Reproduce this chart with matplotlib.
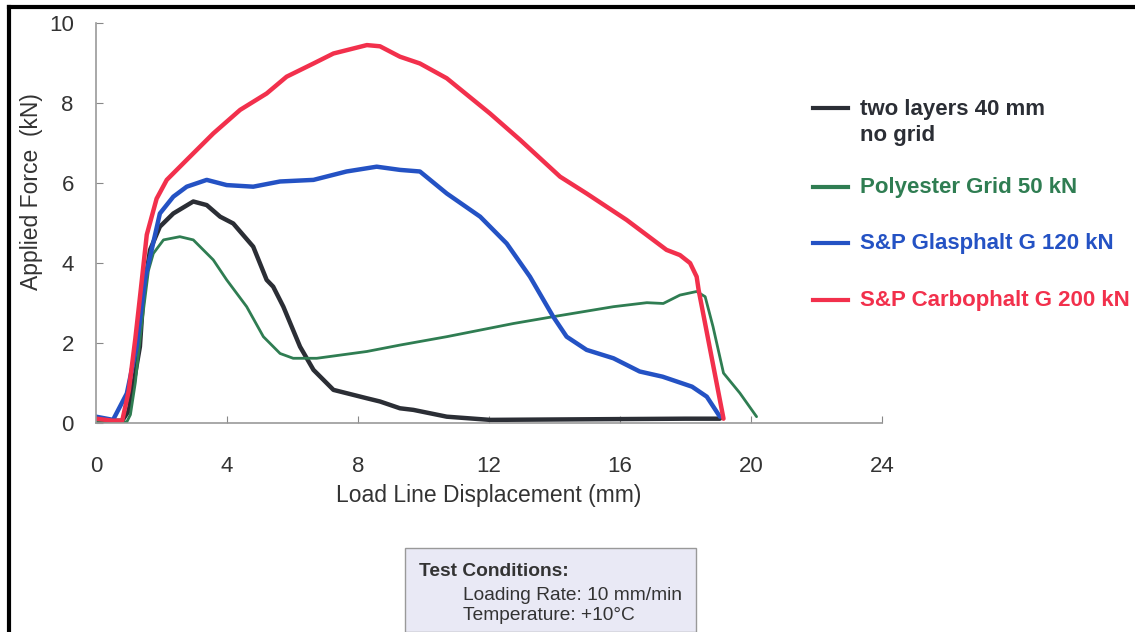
import matplotlib.pyplot as plt
import matplotlib.lines as mlines
import matplotlib.patches as mpatches

# values (x in mm, y in kN)
black_x = [0, 0.4, 0.8, 1.0, 1.15, 1.34, 1.45, 1.65, 1.95, 2.36, 2.97, 3.38, 3.79, 4.19, 4.8, 5.21, 5.41,
           5.72, 6.23, 6.64, 7.25, 8.27, 8.67, 9.28, 9.69, 10.71, 12.03, 14.0, 16.0, 18.0, 19.05]
black_y = [0.05, 0.05, 0.05, 0.3, 1.0, 1.9, 3.23, 4.32, 4.9, 5.23, 5.53, 5.44, 5.15, 4.98, 4.4, 3.57, 3.4,
           2.9, 1.9, 1.32, 0.82, 0.61, 0.53, 0.36, 0.32, 0.15, 0.07, 0.08, 0.09, 0.1, 0.1]

green_x = [0, 0.5, 0.94, 1.05, 1.2, 1.4, 1.6, 1.75, 2.06, 2.56, 2.97, 3.58, 3.99, 4.6, 5.11, 5.62, 6.02,
           6.74, 8.27, 9.28, 10.71, 12.75, 13.96, 15.8, 16.82, 17.32, 17.83, 18.34, 18.6, 18.84, 19.16,
           19.66, 20.17]
green_y = [0.05, 0.03, 0.02, 0.2, 1.0, 2.5, 3.8, 4.23, 4.57, 4.65, 4.57, 4.07, 3.57, 2.9, 2.15, 1.73, 1.61,
           1.61, 1.78, 1.94, 2.15, 2.48, 2.65, 2.9, 3.0, 2.98, 3.19, 3.28, 3.15, 2.4, 1.24,
           0.74, 0.15]

blue_x = [0, 0.52, 0.73, 0.94, 1.24, 1.5, 1.95, 2.36, 2.77, 3.38, 3.99, 4.8, 5.62, 6.64, 7.65, 8.57, 9.28,
          9.89, 10.71, 11.73, 12.54, 13.25, 13.96, 14.37, 14.98, 15.8, 16.6, 17.3, 18.2, 18.65, 19.05]
blue_y = [0.15, 0.07, 0.4, 0.73, 1.9, 3.6, 5.23, 5.65, 5.9, 6.07, 5.94, 5.9, 6.03, 6.07, 6.28, 6.4, 6.32,
          6.28, 5.73, 5.15, 4.48, 3.65, 2.65, 2.15, 1.82, 1.61, 1.28, 1.15, 0.9, 0.65, 0.15]

red_x = [0, 0.5, 0.8, 1.0, 1.2, 1.35, 1.55, 1.85, 2.16, 2.77, 3.58, 4.4, 5.21, 5.82, 6.64, 7.25, 8.27,
         8.67, 9.28, 9.89, 10.71, 12.03, 12.95, 14.17, 14.98, 16.2, 17.42, 17.83, 18.14, 18.34, 18.4,
         19.16]
red_y = [0.1, 0.05, 0.05, 0.8, 2.1, 3.2, 4.7, 5.6, 6.07, 6.57, 7.23, 7.82, 8.23, 8.65, 8.98, 9.23, 9.44,
         9.41, 9.15, 8.98, 8.61, 7.73, 7.07, 6.15, 5.73, 5.07, 4.32, 4.19, 3.99, 3.65, 3.32,
         0.1]

labels = ['two layers 40 mm\nno grid', 'Polyester Grid 50 kN',
          'S&P Glasphalt G 120 kN', 'S&P Carbophalt G 200 kN']
colors = ['#2b2e35', '#2f7d52', '#2452c4', '#f2304c']

x_ticks = [0, 4, 8, 12, 16, 20, 24]
y_ticks = [0, 2, 4, 6, 8, 10]

plt.rcParams['font.family'] = ['Liberation Sans', 'DejaVu Sans']

fig = plt.figure(figsize=(11.35, 6.32), dpi=100)
ax = fig.add_axes([0.0846, 0.3312, 0.6925, 0.6329])

series = [(black_x, black_y), (green_x, green_y), (blue_x, blue_y), (red_x, red_y)]
widths = [3.2, 2.0, 3.2, 3.2]
for (xs, ys), c, lw in zip(series, colors, widths):
    ax.plot(xs, ys, color=c, lw=lw, solid_capstyle='round', solid_joinstyle='round')

ax.set_xlim(0, 24)
ax.set_ylim(0, 10)
ax.set_xticks(x_ticks)
ax.set_yticks(y_ticks)
ax.tick_params(direction='in', length=5, color='#888888', labelsize=16, labelcolor='#333333')
ax.tick_params(axis='x', pad=24)
ax.tick_params(axis='y', pad=16)
for s in ['top', 'right']:
    ax.spines[s].set_visible(False)
for s in ['left', 'bottom']:
    ax.spines[s].set_color('#999999')
    ax.spines[s].set_linewidth(1.2)

ax.set_xlabel('Load Line Displacement (mm)', fontsize=16.5, color='#333333', labelpad=5)
ax.set_ylabel('Applied Force  (kN)', fontsize=16.5, color='#333333')
ax.yaxis.set_label_coords(-0.067, 0.579)

# legend drawn as lines + coloured text in figure coords
leg_y = [0.829, 0.704, 0.615, 0.525]
for yy, lab, c in zip(leg_y, labels, colors):
    fig.add_artist(mlines.Line2D([0.716, 0.747], [yy, yy], color=c, lw=3,
                                 transform=fig.transFigure))
    if '\n' in lab:
        fig.text(0.758, yy + 0.014, lab, color=c, fontsize=16, fontweight='bold',
                 va='top', linespacing=1.28)
    else:
        fig.text(0.758, yy, lab, color=c, fontsize=16, fontweight='bold', va='center')

# test conditions box
fig.add_artist(mpatches.Rectangle((0.357, 0.0), 0.256, 0.133, transform=fig.transFigure,
                                  facecolor='#e9e9f5', edgecolor='#999999', lw=1))
fig.text(0.369, 0.095, 'Test Conditions:', fontsize=13.8, fontweight='bold', color='#333333', va='center')
fig.text(0.408, 0.058, 'Loading Rate: 10 mm/min', fontsize=13.8, color='#333333', va='center')
fig.text(0.408, 0.026, 'Temperature: +10°C', fontsize=13.8, color='#333333', va='center')

# frame lines on top and left edges
fig.add_artist(mlines.Line2D([0.008, 1.0], [0.989, 0.989], color='black', lw=3, transform=fig.transFigure))
fig.add_artist(mlines.Line2D([0.008, 0.008], [0.0, 0.989], color='black', lw=3, transform=fig.transFigure))

plt.savefig('out.png', dpi=100)
